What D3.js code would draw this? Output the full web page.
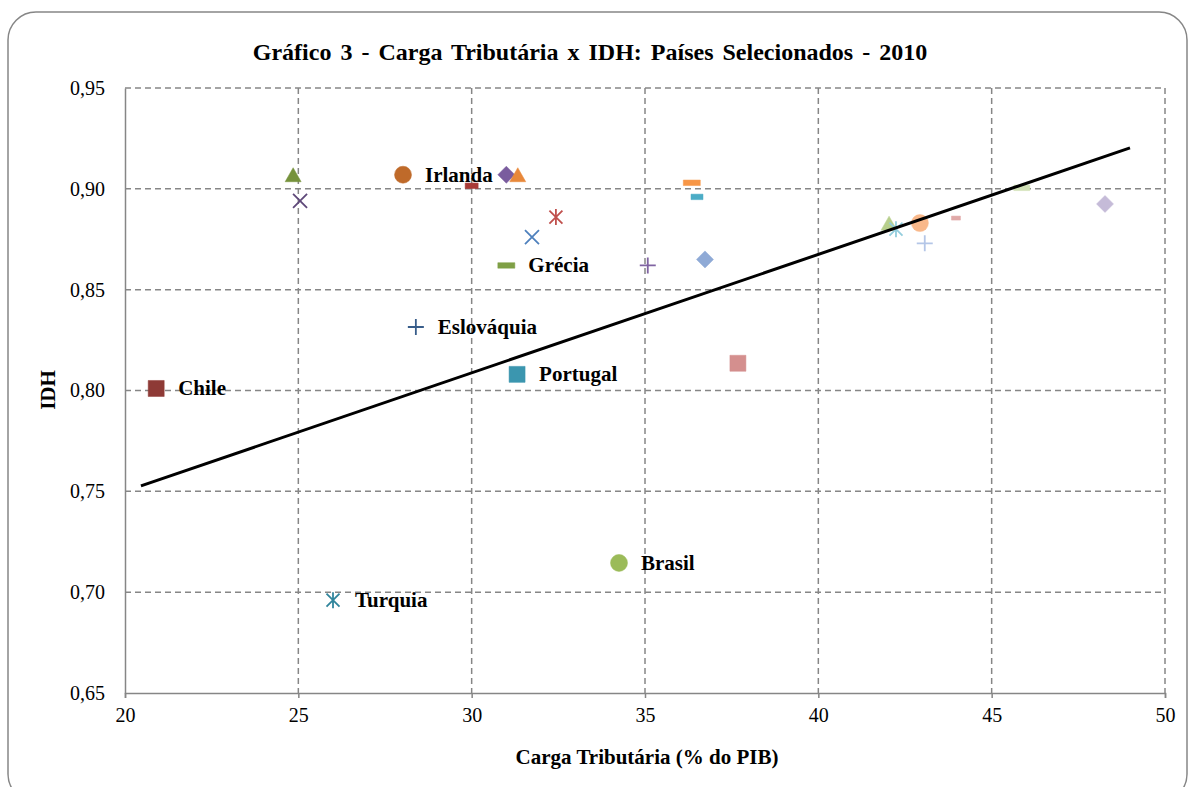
<!DOCTYPE html>
<html>
<head>
<meta charset="utf-8">
<script src="https://cdn.jsdelivr.net/npm/d3@7"></script>
<style>
    body { margin: 0; background: #fff; }
    svg { display: block; font-family: "Liberation Serif", "Times New Roman", serif; }
</style>
</head>
<body>
<svg id="chart"></svg>
<script>
// data (carga tributária % PIB, IDH)
var countries = ["", "", "Irlanda", "", "", "", "", "", "Grécia", "Eslováquia", "Chile", "Portugal", "",
    "", "", "", "", "Brasil", "Turquia", "", "", "", "", "", "", ""];
var carga = [24.85, 25.05, 28.02, 30.0, 31.0, 31.33, 32.43, 31.74, 31.0, 28.39, 20.9, 31.31, 35.08,
    36.35, 36.5, 36.73, 37.68, 34.25, 26.0, 42.04, 42.24, 42.93, 43.07, 43.97, 45.87, 48.27];
var idh = [0.9065, 0.894, 0.907, 0.9015, 0.907, 0.9065, 0.886, 0.876, 0.862, 0.8315, 0.801, 0.808, 0.862,
    0.903, 0.896, 0.865, 0.8135, 0.7145, 0.696, 0.8825, 0.880, 0.883, 0.873, 0.8855, 0.9005, 0.8925];

// marker style per point
var markers = ["triangle", "times", "circle", "dash", "diamond", "triangle", "asterisk", "times", "dash", "plus",
    "square", "square", "plus", "dash", "dash", "diamond", "square", "circle", "asterisk", "triangle",
    "asterisk", "circle", "plus", "dash", "dash", "diamond"];
var colors = ["#76923C", "#5F497A", "#BF6A2A", "#A93A36", "#7A5C9E", "#E8883A", "#C0504D", "#4F81BD", "#7FA046",
    "#385D8A", "#8E3A36", "#3B96AF", "#8064A2", "#F79646", "#4BACC6", "#8FAAD6", "#D48F8E", "#9BBB59",
    "#31859C", "#B7CF8C", "#93CDDD", "#F9B88A", "#B4C6E7", "#E0A9A8", "#D0E0B5", "#C5BBD8"];
var dashWidth = [0, 0, 0, 13, 0, 0, 0, 0, 17, 0, 0, 0, 0, 17, 12, 0, 0, 0, 0, 0, 0, 0, 0, 9, 16, 0];

// trend line end points
var trendX = [20.46, 48.99];
var trendY = [0.7527, 0.9203];

var xTicks = [20, 25, 30, 35, 40, 45, 50];
var yTicks = [0.65, 0.70, 0.75, 0.80, 0.85, 0.90, 0.95];

var width = 1193, height = 787;
var margin = { top: 88, right: 28, bottom: 94, left: 125 };
var plotW = width - margin.left - margin.right;
var plotH = height - margin.top - margin.bottom;

var svg = d3.select("#chart").attr("width", width).attr("height", height);

// outer chart border
svg.append("rect")
    .attr("x", 8).attr("y", 12)
    .attr("width", 1179).attr("height", 790)
    .attr("rx", 28).attr("ry", 28)
    .attr("fill", "none")
    .attr("stroke", "#868686")
    .attr("stroke-width", 1.5);

svg.append("text")
    .attr("x", 590).attr("y", 60)
    .attr("text-anchor", "middle")
    .style("font-size", "24px")
    .style("font-weight", "bold")
    .style("word-spacing", "3px")
    .text("Gráfico 3 - Carga Tributária x IDH: Países Selecionados - 2010");

var g = svg.append("g").attr("transform", "translate(" + margin.left + "," + margin.top + ")");

var x = d3.scaleLinear().domain([20, 50]).range([0, plotW]);
var y = d3.scaleLinear().domain([0.65, 0.95]).range([plotH, 0]);

// grid lines
g.selectAll(".vgrid")
    .data(xTicks.slice(1))
    .enter().append("line")
    .attr("x1", function(d) { return x(d); }).attr("x2", function(d) { return x(d); })
    .attr("y1", 0).attr("y2", plotH)
    .attr("stroke", "#868686").attr("stroke-width", 1.5)
    .attr("stroke-dasharray", "6,4");

g.selectAll(".hgrid")
    .data(yTicks.slice(1))
    .enter().append("line")
    .attr("x1", 0).attr("x2", plotW)
    .attr("y1", function(d) { return y(d); }).attr("y2", function(d) { return y(d); })
    .attr("stroke", "#868686").attr("stroke-width", 1.5)
    .attr("stroke-dasharray", "6,4");

// axes
var xAxis = g.append("g")
    .attr("transform", "translate(0," + plotH + ")")
    .call(d3.axisBottom(x).tickValues(xTicks).tickSize(5).tickPadding(10).tickFormat(d3.format("d")));

var yAxis = g.append("g")
    .call(d3.axisLeft(y).tickValues(yTicks).tickSize(0).tickPadding(20)
        .tickFormat(function(d) { return d3.format(".2f")(d).replace(".", ","); }));

[xAxis, yAxis].forEach(function(a) {
    a.select(".domain").attr("stroke", "#868686").attr("stroke-width", 1.5);
    a.selectAll(".tick line").attr("stroke", "#868686").attr("stroke-width", 1.5);
    a.selectAll("text")
        .attr("fill", "#000")
        .style("font-family", "'Liberation Serif', serif")
        .style("font-size", "20px");
});

svg.append("text")
    .attr("x", 647).attr("y", 764)
    .attr("text-anchor", "middle")
    .style("font-size", "21px")
    .style("font-weight", "bold")
    .text("Carga Tributária (% do PIB)");

svg.append("text")
    .attr("transform", "translate(55,390) rotate(-90)")
    .attr("text-anchor", "middle")
    .style("font-size", "21px")
    .style("font-weight", "bold")
    .text("IDH");

// marker path generator
function markerPath(type, i) {
    var p = d3.path();
    if (type === "triangle") {
        p.moveTo(0, -8); p.lineTo(8, 6); p.lineTo(-8, 6); p.closePath();
    } else if (type === "circle") {
        p.arc(0, 0, 8.5, 0, 2 * Math.PI);
    } else if (type === "square") {
        p.rect(-8, -8, 16, 16);
    } else if (type === "diamond") {
        p.moveTo(0, -8.5); p.lineTo(8.5, 0); p.lineTo(0, 8.5); p.lineTo(-8.5, 0); p.closePath();
    } else if (type === "dash") {
        var w = dashWidth[i];
        var h = w < 10 ? 4 : 5.5;
        p.rect(-w / 2, -h / 2, w, h);
    } else if (type === "times") {
        p.moveTo(-7, -7); p.lineTo(7, 7); p.moveTo(-7, 7); p.lineTo(7, -7);
    } else if (type === "plus") {
        p.moveTo(-8, 0); p.lineTo(8, 0); p.moveTo(0, -8); p.lineTo(0, 8);
    } else if (type === "asterisk") {
        p.moveTo(-6.5, -6.5); p.lineTo(6.5, 6.5); p.moveTo(-6.5, 6.5); p.lineTo(6.5, -6.5);
        p.moveTo(0, -8); p.lineTo(0, 8);
    }
    return p.toString();
}

var filled = { triangle: true, circle: true, square: true, diamond: true, dash: true };

var points = carga.map(function(c, i) {
    return { name: countries[i], carga: c, idh: idh[i], marker: markers[i], color: colors[i], i: i };
});

g.selectAll(".pt")
    .data(points)
    .enter().append("path")
    .attr("class", "pt")
    .attr("transform", function(d) { return "translate(" + x(d.carga) + "," + y(d.idh) + ")"; })
    .attr("d", function(d) { return markerPath(d.marker, d.i); })
    .attr("fill", function(d) { return filled[d.marker] ? d.color : "none"; })
    .attr("stroke", function(d) { return d.color; })
    .attr("stroke-width", function(d) { return filled[d.marker] ? 0.5 : 1.8; });

// country labels
g.selectAll(".lbl")
    .data(points.filter(function(d) { return d.name !== ""; }))
    .enter().append("text")
    .attr("class", "lbl")
    .attr("x", function(d) { return x(d.carga) + 22; })
    .attr("y", function(d) { return y(d.idh) + 7; })
    .style("font-size", "21px")
    .style("font-weight", "bold")
    .text(function(d) { return d.name; });

// linear trend line
var trend = trendX.map(function(v, i) { return [v, trendY[i]]; });
g.append("path")
    .datum(trend)
    .attr("d", d3.line().x(function(d) { return x(d[0]); }).y(function(d) { return y(d[1]); }))
    .attr("stroke", "#000")
    .attr("stroke-width", 3)
    .attr("fill", "none");
</script>
</body>
</html>
